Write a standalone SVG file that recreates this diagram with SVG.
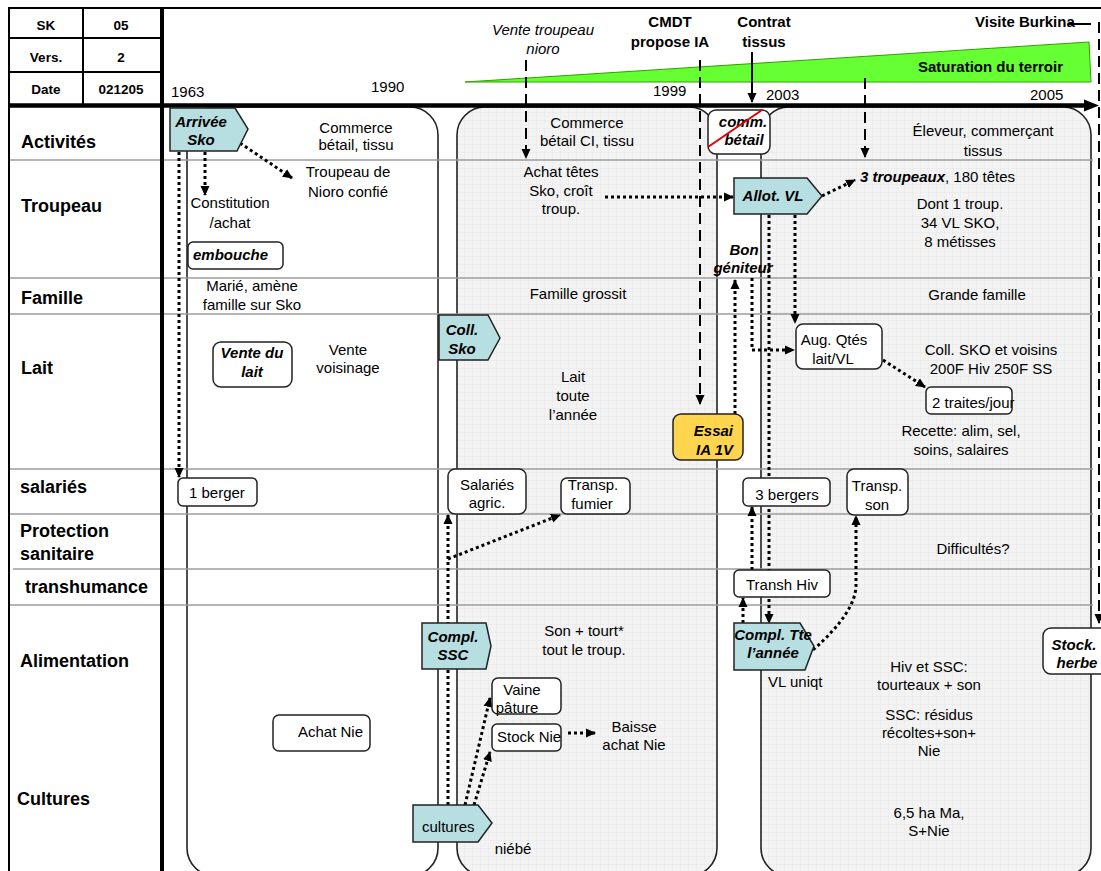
<svg xmlns="http://www.w3.org/2000/svg" width="1101" height="871" viewBox="0 0 1101 871">
<defs>
<pattern id="grid" width="8" height="8" patternUnits="userSpaceOnUse">
<rect width="8" height="8" fill="#f3f3f3"/>
<path d="M8,0 L0,0 L0,8" fill="none" stroke="#e3e3e3" stroke-width="0.7"/>
</pattern>
<marker id="ah" viewBox="0 0 10 10" refX="9" refY="5" markerWidth="10" markerHeight="10" markerUnits="userSpaceOnUse" orient="auto"><path d="M0,0.5 L10,5 L0,9.5 z" fill="#000"/></marker>
<style>
text{font-family:"Liberation Sans",Arial,sans-serif;font-size:15px;fill:#000}
.lbl{font-size:18px;font-weight:bold}
.hd{font-size:13.5px;font-weight:bold;text-anchor:middle}
.c{text-anchor:middle}
.bi{font-weight:bold;font-style:italic}
.it{font-style:italic}
.b{font-weight:bold}
.row{stroke:#9c9c9c;stroke-width:1.5}
.era{stroke:#222;stroke-width:1.6}
.dot{fill:none;stroke:#000;stroke-width:3;stroke-dasharray:3 3}
.dash{fill:none;stroke:#000;stroke-width:2;stroke-dasharray:11 6}
.box{fill:#fff;stroke:#222;stroke-width:1.5}
.pent{fill:#b7dee1;stroke:#222;stroke-width:1.5}
</style>
</defs>

<!-- era boxes -->
<g id="periods">
<rect class="era" x="187" y="107" width="251" height="769" rx="28" fill="#fff"/>
<rect class="era" x="457" y="107" width="260" height="769" rx="28" fill="url(#grid)"/>
<rect class="era" x="761" y="107" width="330" height="769" rx="28" fill="url(#grid)"/>
</g>

<!-- green wedge -->
<g id="saturation">
<polygon points="465,82 1089,42 1091,82" fill="#66ff33" stroke="#33a000" stroke-width="1"/>
<text class="b" x="1063" y="72" text-anchor="end">Saturation du terroir</text>
</g>

<!-- row lines -->
<g id="rows">
<line class="row" x1="9" y1="160" x2="1093" y2="160"/>
<line class="row" x1="9" y1="278" x2="1093" y2="278"/>
<line class="row" x1="9" y1="314" x2="1093" y2="314"/>
<line class="row" x1="9" y1="469" x2="1093" y2="469"/>
<line class="row" x1="9" y1="514" x2="1093" y2="514"/>
<line class="row" x1="13" y1="569" x2="1093" y2="569"/>
<line class="row" x1="9" y1="605" x2="1093" y2="605"/>
</g>

<!-- frame -->
<g id="frame" stroke="#000" fill="none">
<line x1="8" y1="8" x2="1101" y2="8" stroke-width="2"/>
<line x1="9" y1="7" x2="9" y2="871" stroke-width="2"/>
<line x1="9" y1="38" x2="160" y2="38" stroke-width="2"/>
<line x1="9" y1="72" x2="160" y2="72" stroke-width="2"/>
<line x1="83" y1="8" x2="83" y2="104" stroke-width="2"/>
<line x1="162" y1="8" x2="162" y2="871" stroke-width="4"/>
<line x1="9" y1="105.5" x2="1088" y2="105.5" stroke-width="4.5"/>
<polygon points="1084,99.5 1099,105.5 1084,111.5" fill="#000" stroke="none"/>
</g>

<g id="header">
<text class="hd" x="46" y="30">SK</text>
<text class="hd" x="121" y="30">05</text>
<text class="hd" x="46" y="62">Vers.</text>
<text class="hd" x="121" y="62">2</text>
<text class="hd" x="46" y="94">Date</text>
<text class="hd" x="121" y="94">021205</text>
</g>

<g id="row-labels">
<text class="lbl" x="21" y="148">Activités</text>
<text class="lbl" x="21" y="212">Troupeau</text>
<text class="lbl" x="21" y="304">Famille</text>
<text class="lbl" x="21" y="374">Lait</text>
<text class="lbl" x="20" y="493">salariés</text>
<text class="lbl" x="20" y="537">Protection</text>
<text class="lbl" x="20" y="560">sanitaire</text>
<text class="lbl" x="25" y="593">transhumance</text>
<text class="lbl" x="20" y="667">Alimentation</text>
<text class="lbl" x="17" y="805">Cultures</text>
</g>

<g id="years">
<text x="171" y="97">1963</text>
<text x="371" y="92">1990</text>
<text x="653" y="96">1999</text>
<text x="766" y="100">2003</text>
<text x="1030" y="100">2005</text>
</g>

<g id="events">
<text class="it c" x="543" y="35">Vente troupeau</text>
<text class="it c" x="543" y="54">nioro</text>
<text class="b c" x="670" y="27">CMDT</text>
<text class="b c" x="670" y="47">propose IA</text>
<text class="b c" x="764" y="27">Contrat</text>
<text class="b c" x="764" y="47">tissus</text>
<text class="b" x="975" y="27">Visite Burkina</text>
</g>

<!-- connectors -->
<g id="connectors">
<path class="dash" d="M526,60 L526,158" marker-end="url(#ah)"/>
<path class="dash" d="M700,60 L700,404" marker-end="url(#ah)"/>
<path class="dash" d="M865,78 L865,157" marker-end="url(#ah)"/>
<path d="M1068,24 L1091,24" stroke="#000" stroke-width="2" fill="none"/>
<path class="dash" d="M1099,22 L1099,623" marker-end="url(#ah)"/>
<path d="M752,52 L752,102" stroke="#000" stroke-width="2" fill="none" marker-end="url(#ah)"/>

<path class="dot" d="M205,152 L205,195" marker-end="url(#ah)"/>
<path class="dot" d="M240,143 L292,178" marker-end="url(#ah)"/>
<path class="dot" d="M179,152 L179,477" marker-end="url(#ah)"/>
<path class="dot" d="M605,197 L733,197" marker-end="url(#ah)"/>
<path class="dot" d="M822,196 L855,180" marker-end="url(#ah)"/>
<path class="dot" d="M769,215 L769,623" marker-end="url(#ah)"/>
<path class="dot" d="M795,215 L795,323" marker-end="url(#ah)"/>
<path class="dot" d="M735,414 L735,280" marker-end="url(#ah)"/>
<path class="dot" d="M752,278 L752,350 L794,350" marker-end="url(#ah)"/>
<path class="dot" d="M883,360 L925,387" marker-end="url(#ah)"/>
<path class="dot" d="M752,570 L752,507" marker-end="url(#ah)"/>
<path class="dot" d="M743,623 L743,598" marker-end="url(#ah)"/>
<path class="dot" d="M813,650 Q856,612 856,585 L856,516" marker-end="url(#ah)"/>
<path class="dot" d="M448,805 L448,515" marker-end="url(#ah)"/>
<path class="dot" d="M448,559 L560,515" marker-end="url(#ah)"/>
<path class="dot" d="M465,805 L490,698" marker-end="url(#ah)"/>
<path class="dot" d="M474,805 L490,752" marker-end="url(#ah)"/>
<path class="dot" d="M568,733 L595,733" marker-end="url(#ah)"/>
</g>

<!-- nodes -->
<g id="arrivee-sko">
<polygon class="pent" points="170,108 235,108 248,129 237,151 170,151"/>
<text class="bi c" x="201" y="127">Arrivée</text>
<text class="bi c" x="201" y="145">Sko</text>
</g>
<g id="embouche">
<rect class="box" x="188" y="242" width="95" height="27" rx="5"/>
<text class="bi" x="193" y="260">embouche</text>
</g>
<g id="vente-du-lait">
<rect class="box" x="213" y="342" width="79" height="45" rx="8"/>
<text class="bi c" x="252" y="358">Vente du</text>
<text class="bi c" x="252" y="377">lait</text>
</g>
<g id="un-berger">
<rect class="box" x="178" y="478" width="79" height="28" rx="5"/>
<text x="189" y="498">1 berger</text>
</g>
<g id="achat-nie">
<rect class="box" x="273" y="715" width="97" height="36" rx="6"/>
<text x="298" y="737">Achat Nie</text>
</g>

<g id="coll-sko">
<polygon class="pent" points="439,315 488,315 500,338 488,360 439,360"/>
<text class="bi c" x="462" y="335">Coll.</text>
<text class="bi c" x="462" y="354">Sko</text>
</g>
<g id="salaries-agric">
<rect class="box" x="448" y="469" width="78" height="45" rx="7"/>
<text class="c" x="487" y="490">Salariés</text>
<text class="c" x="487" y="508">agric.</text>
</g>
<g id="transp-fumier">
<rect class="box" x="561" y="478" width="69" height="36" rx="6"/>
<text class="c" x="593" y="490">Transp.</text>
<text class="c" x="592" y="509">fumier</text>
</g>
<g id="compl-ssc">
<polygon class="pent" points="422,623 486,623 491,646 486,669 422,669"/>
<text class="bi c" x="453" y="642">Compl.</text>
<text class="bi c" x="453" y="660">SSC</text>
</g>
<g id="vaine-pature">
<rect class="box" x="492" y="678" width="69" height="36" rx="6"/>
<text class="c" x="522" y="695">Vaine</text>
<text class="c" x="517" y="713">pâture</text>
</g>
<g id="stock-nie">
<rect class="box" x="492" y="724" width="69" height="27" rx="5"/>
<text x="497" y="742">Stock Nie</text>
</g>
<g id="cultures-node">
<polygon class="pent" points="413,805 478,805 492,823 478,842 413,842"/>
<text x="422" y="832">cultures</text>
</g>

<g id="comm-betail">
<rect class="box" x="708" y="110" width="62" height="44" rx="8"/>
<text class="bi c" x="743" y="127">comm.</text>
<text class="bi c" x="744" y="145">bétail</text>
<line x1="708" y1="147" x2="762" y2="110" stroke="#e00000" stroke-width="2"/>
</g>
<g id="allot-vl">
<polygon class="pent" points="734,178 807,178 822,196 807,214 734,214"/>
<text class="bi c" x="773" y="201">Allot. VL</text>
</g>
<g id="bon-geniteur">
<text class="bi c" x="744" y="255">Bon</text>
<text class="bi c" x="743" y="273">géniteur</text>
</g>
<g id="essai-ia">
<rect x="673" y="414" width="70" height="46" rx="8" fill="#ffd54f" stroke="#222" stroke-width="1.5"/>
<text class="bi" x="733" y="436" text-anchor="end">Essai</text>
<text class="bi" x="733" y="455" text-anchor="end">IA 1V</text>
</g>
<g id="aug-qtes">
<rect class="box" x="796" y="324" width="86" height="45" rx="7"/>
<text class="c" x="834" y="345">Aug. Qtés</text>
<text class="c" x="833" y="364">lait/VL</text>
</g>
<g id="deux-traites">
<rect class="box" x="926" y="387" width="86" height="27" rx="5"/>
<text x="932" y="408">2 traites/jour</text>
</g>
<g id="trois-bergers">
<rect class="box" x="743" y="478" width="87" height="28" rx="5"/>
<text class="c" x="787" y="500">3 bergers</text>
</g>
<g id="transp-son">
<rect class="box" x="847" y="469" width="61" height="46" rx="7"/>
<text class="c" x="877" y="491">Transp.</text>
<text class="c" x="877" y="510">son</text>
</g>
<g id="transh-hiv">
<rect class="box" x="734" y="570" width="96" height="27" rx="5"/>
<text class="c" x="782" y="590">Transh Hiv</text>
</g>
<g id="compl-tte">
<polygon class="pent" points="734,623 800,623 814,646 805,670 734,670"/>
<text class="bi c" x="773" y="640">Compl. Tte</text>
<text class="bi c" x="773" y="658">l’année</text>
</g>
<g id="stock-herbe">
<rect class="box" x="1043" y="628" width="80" height="46" rx="8"/>
<text class="bi c" x="1074" y="650">Stock.</text>
<text class="bi c" x="1077" y="668">herbe</text>
</g>

<!-- free texts -->
<g id="texts">
<text class="c" x="356" y="133">Commerce</text>
<text class="c" x="356" y="150">bétail, tissu</text>
<text class="c" x="348" y="177">Troupeau de</text>
<text class="c" x="348" y="197">Nioro confié</text>
<text class="c" x="230" y="208">Constitution</text>
<text class="c" x="230" y="228">/achat</text>
<text class="c" x="252" y="291">Marié, amène</text>
<text class="c" x="252" y="310">famille sur Sko</text>
<text class="c" x="348" y="355">Vente</text>
<text class="c" x="348" y="373">voisinage</text>

<text class="c" x="587" y="128">Commerce</text>
<text class="c" x="587" y="146">bétail CI, tissu</text>
<text class="c" x="561" y="177">Achat têtes</text>
<text class="c" x="561" y="196">Sko, croît</text>
<text class="c" x="561" y="214">troup.</text>
<text class="c" x="578" y="299">Famille grossit</text>
<text class="c" x="573" y="382">Lait</text>
<text class="c" x="573" y="401">toute</text>
<text class="c" x="573" y="420">l’année</text>
<text class="c" x="584" y="636">Son + tourt*</text>
<text class="c" x="584" y="655">tout le troup.</text>
<text class="c" x="634" y="732">Baisse</text>
<text class="c" x="634" y="750">achat Nie</text>
<text class="c" x="513" y="854">niébé</text>

<text class="c" x="983" y="136">Éleveur, commerçant</text>
<text class="c" x="983" y="156">tissus</text>
<text x="860" y="182"><tspan class="bi">3 troupeaux</tspan>, 180 têtes</text>
<text class="c" x="960" y="209">Dont 1 troup.</text>
<text class="c" x="960" y="228">34 VL SKO,</text>
<text class="c" x="960" y="247">8 métisses</text>
<text class="c" x="977" y="300">Grande famille</text>
<text class="c" x="991" y="355">Coll. SKO et voisins</text>
<text class="c" x="991" y="374">200F Hiv 250F SS</text>
<text class="c" x="961" y="436">Recette: alim, sel,</text>
<text class="c" x="961" y="455">soins, salaires</text>
<text class="c" x="973" y="554">Difficultés?</text>
<text x="768" y="687">VL uniqt</text>
<text class="c" x="929" y="672">Hiv et SSC:</text>
<text class="c" x="929" y="690">tourteaux + son</text>
<text class="c" x="929" y="720">SSC: résidus</text>
<text class="c" x="929" y="738">récoltes+son+</text>
<text class="c" x="929" y="756">Nie</text>
<text class="c" x="929" y="818">6,5 ha Ma,</text>
<text class="c" x="929" y="836">S+Nie</text>
</g>
</svg>
